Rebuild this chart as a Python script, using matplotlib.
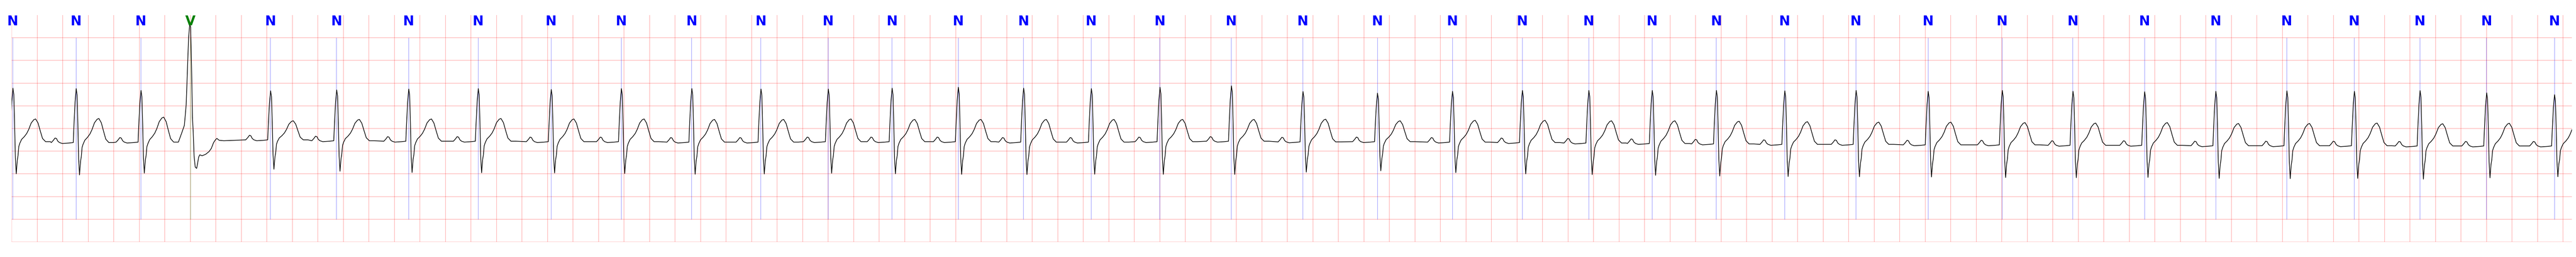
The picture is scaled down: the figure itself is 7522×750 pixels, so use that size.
import matplotlib
matplotlib.use("Agg")
import matplotlib.pyplot as plt
import numpy as np

# beat annotations: time of each R peak (s) and its label
beat_times = [0.007, 0.503, 1.011, 1.399, 2.027, 2.545, 3.110, 3.655, 4.227, 4.777,
              5.329, 5.871, 6.399, 6.899, 7.418, 7.930, 8.461, 8.999, 9.559, 10.120,
              10.704, 11.292, 11.840, 12.361, 12.858, 13.361, 13.897, 14.456, 15.021, 15.602,
              16.156, 16.718, 17.276, 17.833, 18.362, 18.877, 19.399, 19.931]
beat_labels = ["N", "N", "N", "V"] + ["N"] * 34

# per beat baseline (mV), R amplitude and T amplitude above baseline
baseline = [-0.29, -0.31, -0.30, -0.27, -0.25, -0.27, -0.28, -0.28, -0.29, -0.29,
            -0.30, -0.30, -0.29, -0.29, -0.29, -0.30, -0.30, -0.29, -0.28, -0.295,
            -0.29, -0.30, -0.31, -0.32, -0.33, -0.34, -0.35, -0.35, -0.36, -0.36,
            -0.37, -0.37, -0.38, -0.38, -0.38, -0.385, -0.385, -0.385]
r_amp = [1.18, 1.19, 1.14, 0.0, 1.08, 1.12, 1.15, 1.16, 1.15, 1.17,
         1.18, 1.17, 1.16, 1.18, 1.20, 1.19, 1.18, 1.20, 1.22, 1.11,
         1.07, 1.12, 1.15, 1.16, 1.17, 1.18, 1.18, 1.19, 1.18, 1.20,
         1.19, 1.18, 1.20, 1.21, 1.20, 1.22, 1.17, 1.13]
t_amp = [0.50, 0.53, 0.55, 0.0, 0.42, 0.47, 0.49, 0.50, 0.50, 0.50,
         0.50, 0.50, 0.50, 0.49, 0.49, 0.50, 0.50, 0.49, 0.48, 0.50,
         0.46, 0.48, 0.49, 0.49, 0.50, 0.50, 0.50, 0.49, 0.50, 0.49,
         0.49, 0.50, 0.49, 0.49, 0.50, 0.49, 0.50, 0.50]

# normal beat shape, offsets from the R peak (s)
p_off = [-0.193, -0.177, -0.164, -0.153, -0.142, -0.129, -0.107, -0.054, -0.021]
p_val = [0.0, 0.05, 0.10, 0.09, 0.03, 0.0, -0.02, -0.01, 0.0]
qrs_off = [-0.016, -0.007, 0.002, 0.009, 0.015, 0.021, 0.028, 0.036, 0.042, 0.048, 0.056]
qrs_val = [0.30, 0.75, 1.0, 0.88, 0.35, -0.30, -0.60, -0.35, -0.26, -0.09, -0.03]
t_off = [0.070, 0.091, 0.110, 0.126, 0.145, 0.166, 0.180, 0.199, 0.217, 0.234, 0.258, 0.295]
t_val = [0.10, 0.22, 0.36, 0.54, 0.82, 0.97, 1.0, 0.82, 0.46, 0.14, 0.0, 0.0]

# ventricular beat shape (absolute mV)
v_off = [-0.067, -0.046, -0.032, -0.023, -0.013, -0.004, 0.003, 0.010, 0.017, 0.023,
         0.030, 0.039, 0.050, 0.057, 0.066, 0.075, 0.093, 0.120, 0.147, 0.165,
         0.183, 0.200, 0.209, 0.227, 0.263]
v_val = [-0.10, 0.07, 0.52, 1.21, 2.0, 2.29, 2.24, 1.39, 0.26, -0.06,
         -0.60, -0.85, -0.88, -0.78, -0.63, -0.58, -0.60, -0.57, -0.51, -0.44,
         -0.31, -0.24, -0.22, -0.26, -0.27]

t_end = 20.069

# build the trace beat by beat
xs, ys = [], []
for t, lab, b, r, ta in zip(beat_times, beat_labels, baseline, r_amp, t_amp):
    if lab == "V":
        xs.append(t + np.array(v_off))
        ys.append(np.array(v_val))
    else:
        xs.append(t + np.concatenate([p_off, qrs_off, t_off]))
        ys.append(b + np.concatenate([np.array(p_val),
                                      r * np.array(qrs_val),
                                      ta * np.array(t_val)]))
x = np.concatenate(xs)
y = np.concatenate(ys)

fig = plt.figure(figsize=(75.22, 7.5), dpi=100)
ax = fig.add_axes([34.4 / 7522, 44 / 750, (7510 - 34.4) / 7522, 662 / 750])
ax.set_xlim(0, t_end)
ax.set_ylim(-2.5, 2.5)
ax.set_axis_off()

# ecg paper grid
for gx in np.arange(0, 20.01, 0.2):
    ax.axvline(gx, color="red", alpha=0.3, lw=1.2, zorder=1)
for gy in np.arange(-2.5, 2.01, 0.5):
    ax.axhline(gy, color="red", alpha=0.3, lw=1.2, zorder=1)

ax.plot(x, y, color="black", lw=1.4, zorder=3)

# annotation markers
for t, lab in zip(beat_times, beat_labels):
    c = "green" if lab == "V" else "blue"
    ax.vlines(t, -2.0, 2.0, color=c, alpha=0.5, lw=0.8, zorder=2)
    ax.text(t, 2.5, lab, color=c, ha="center", va="top", fontsize=28,
            fontweight="bold", family=["Liberation Sans Narrow", "DejaVu Sans"])

fig.savefig("out.png", dpi=100)
